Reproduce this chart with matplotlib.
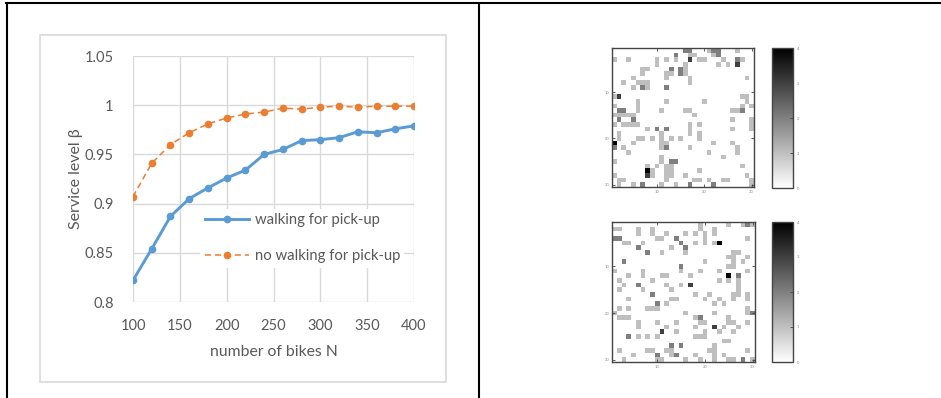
import numpy as np
import matplotlib
matplotlib.use("Agg")
import matplotlib.pyplot as plt
from matplotlib.patches import Rectangle
from matplotlib.lines import Line2D

# line chart data
bikes = [100, 120, 140, 160, 180, 200, 220, 240, 260, 280, 300, 320, 340, 360, 380, 400]
walking = [0.822, 0.854, 0.887, 0.905, 0.916, 0.926, 0.934, 0.950, 0.955, 0.964,
           0.965, 0.967, 0.973, 0.972, 0.976, 0.979]
no_walking = [0.907, 0.941, 0.960, 0.972, 0.981, 0.987, 0.991, 0.993, 0.997, 0.996,
              0.998, 0.999, 0.998, 0.999, 0.999, 0.999]
x_ticks = [100, 150, 200, 250, 300, 350, 400]
y_ticks = [0.8, 0.85, 0.9, 0.95, 1.0, 1.05]
y_tick_labels = ["0.8", "0.85", "0.9", "0.95", "1", "1.05"]

# heatmaps (30 x 30 cells, values 0..4), one string per row
heat_top = [
    "00000 00000 00000 22000 12200 01000",
    "00000 00000 00020 01100 01200 00000",
    "10010 00001 01010 03011 00010 02100",
    "00000 00001 00000 10000 00101 03000",
    "00000 01100 00202 10000 00000 00000",
    "00000 01000 01102 10000 00000 00000",
    "00001 00000 01000 01000 00000 00010",
    "00100 11100 00000 01000 00000 00000",
    "00001 02100 02000 00000 00000 00000",
    "00000 00000 00000 00000 00000 00000",
    "13000 00000 00000 00000 00000 00110",
    "00000 10000 01000 00001 00000 00010",
    "10000 10000 00000 00000 00000 00101",
    "02200 10000 10000 11000 00000 11200",
    "11111 00000 00000 00100 00000 00000",
    "02002 00000 00000 00000 00000 10001",
    "10111 10000 00000 01010 00000 00001",
    "00000 00102 02000 01000 00000 10001",
    "01000 00000 10000 01010 00000 00000",
    "01000 11010 10101 00010 00000 00000",
    "40001 00000 11000 00000 01000 10000",
    "20100 00000 12000 01000 00000 01000",
    "00010 00000 00000 00000 10000 01000",
    "00000 00000 10000 00000 00010 00000",
    "10000 00000 10220 00000 00000 00000",
    "00000 00101 01100 00000 00000 00100",
    "00000 00410 01100 00010 00000 00000",
    "10000 00310 01100 10000 00000 00010",
    "01100 00000 01000 00110 10011 00001",
    "01001 02000 10010 02000 02000 00001",
]
heat_bottom = [
    "00000 00000 00000 00010 00001 00121",
    "11000 10010 00000 00010 01000 00000",
    "00000 10010 01000 10101 01000 00000",
    "22000 00001 10020 00001 00000 00010",
    "00110 01000 00002 00101 01400 00000",
    "00000 20000 00100 20000 00000 00000",
    "00000 00200 10000 10000 00000 11000",
    "00000 00000 00000 00000 00001 10010",
    "00200 00000 00000 00001 00000 10100",
    "00000 00000 00002 00000 00001 10000",
    "10000 01000 00001 00010 00100 00010",
    "00010 01000 11000 01000 00004 02000",
    "01000 00010 00000 00000 00101 01000",
    "00100 20000 01001 03000 00000 01000",
    "01000 01000 00100 00000 00000 01000",
    "00000 00020 00000 00100 10000 11010",
    "00010 00000 00110 00001 00100 10010",
    "00000 00002 01000 00000 01010 00000",
    "01010 00111 00000 00000 00000 00010",
    "10000 00000 00000 10000 01000 00012",
    "01110 00000 00000 00120 00001 00000",
    "00000 10001 00010 00011 00001 10010",
    "00000 10000 01000 00100 03010 01000",
    "00000 00000 30010 00001 00100 10000",
    "00020 10101 00000 00111 00000 00000",
    "00000 00000 00000 00000 00011 00000",
    "00000 00000 00202 00000 01000 00000",
    "01000 00110 01100 00000 11000 00010",
    "00001 00002 00120 00100 01010 00000",
    "00100 00001 10000 10010 01001 10201",
]
heat_ticks = [10, 20, 30]
bar_ticks = [0, 1, 2, 3, 4]

W, H = 941, 398
TXT = "#595959"
GRID = "#d9d9d9"


def px_box(x0, y0, x1, y1):
    # pixel rectangle (top-left origin) -> figure fraction [l, b, w, h]
    return [x0 / W, 1 - y1 / H, (x1 - x0) / W, (y1 - y0) / H]


def to_grid(rows):
    return np.array([[int(c) for c in r.replace(" ", "")] for r in rows])


plt.rcParams["font.family"] = ["Lato", "DejaVu Sans"]
fig = plt.figure(figsize=(W / 100, H / 100), dpi=100)

# outer table frame
frame = dict(color="black", lw=1.5, transform=fig.transFigure)
fig.add_artist(Line2D([6 / W, 1], [1 - 3 / H, 1 - 3 / H], **frame))
fig.add_artist(Line2D([7 / W, 7 / W], [0, 1 - 3 / H], **frame))
fig.add_artist(Line2D([478.5 / W, 478.5 / W], [0, 1 - 3 / H], **frame))

# chart area border
l, b, w, h = px_box(39.5, 35, 446, 381.5)
fig.add_artist(Rectangle((l, b), w, h, transform=fig.transFigure,
                         fill=False, edgecolor=GRID, lw=1.2))

# ---- line chart ----
ax = fig.add_axes(px_box(133, 56, 414, 302))
ax.plot(bikes, walking, color="#5b9bd5", lw=2.1, marker="o", ms=4.5,
        label="walking for pick-up", zorder=3)
ax.plot(bikes, no_walking, color="#ed7d31", lw=1.1, ls=(0, (4, 2.5)), marker="o",
        ms=4.5, label="no walking for pick-up", zorder=3)
ax.set_xlim(100, 400)
ax.set_ylim(0.8, 1.05)
ax.set_xticks(x_ticks)
ax.set_yticks(y_ticks)
ax.set_yticklabels(y_tick_labels)
ax.grid(True, color=GRID, lw=1)
for s in ax.spines.values():
    s.set_visible(False)
ax.tick_params(axis="x", length=0, labelsize=10.5, labelcolor=TXT, pad=12)
ax.tick_params(axis="y", length=0, labelsize=10.5, labelcolor=TXT, pad=14)
ax.set_xlabel("number of bikes N", fontsize=11.3, color=TXT, labelpad=9)
ax.set_ylabel("Service level β", fontsize=11.5, color=TXT, labelpad=1)
leg = ax.legend(loc="upper left", bbox_to_anchor=(0.24, 0.378), frameon=True,
                framealpha=1, edgecolor="none", fontsize=10.7, labelspacing=1.47,
                handlelength=3.0, handletextpad=0.34, borderpad=0.3,
                borderaxespad=0)
for t in leg.get_texts():
    t.set_color(TXT)


# ---- heatmaps ----
def heat_panel(grid, hm_box, cb_box):
    hax = fig.add_axes(px_box(*hm_box))
    im = hax.imshow(grid, cmap="gray_r", vmin=0, vmax=4, interpolation="nearest",
                    extent=(0.5, 30.5, 30.5, 0.5), aspect="auto")
    hax.set_xticks(heat_ticks)
    hax.set_yticks(heat_ticks)
    hax.tick_params(direction="in", length=2, width=0.6, labelsize=3,
                    labelcolor="#888888", color="#444444", top=True, right=True, pad=2)
    for s in hax.spines.values():
        s.set_color("#444444")
        s.set_linewidth(1)
    cax = fig.add_axes(px_box(*cb_box))
    cb = fig.colorbar(im, cax=cax, ticks=bar_ticks)
    cb.outline.set_edgecolor("#444444")
    cb.outline.set_linewidth(1)
    cax.tick_params(direction="in", length=2, width=0.6, labelsize=3,
                    labelcolor="#888888", color="#444444", pad=3)


heat_panel(to_grid(heat_top), (612, 48, 754, 187), (772, 48, 793, 188))
heat_panel(to_grid(heat_bottom), (612, 222, 755, 362), (772, 222, 793, 362))

fig.savefig("out.png", dpi=100)
